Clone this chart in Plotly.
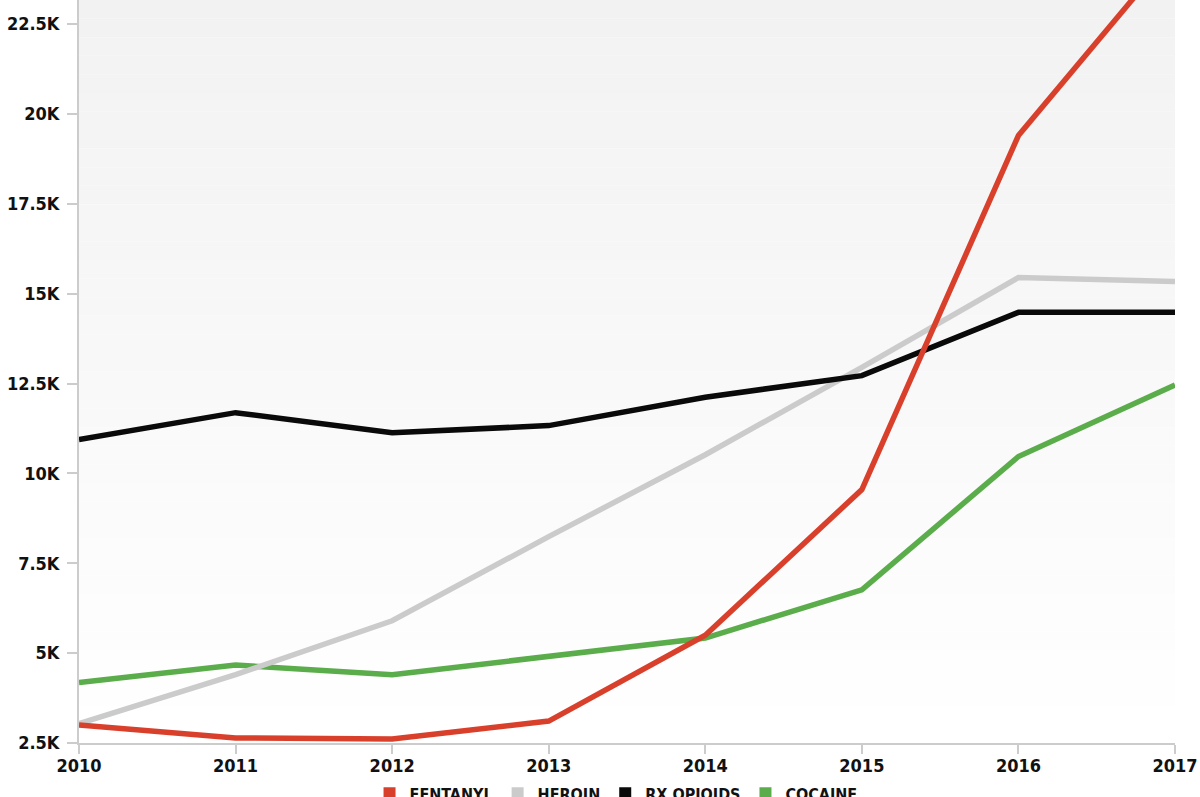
import plotly.graph_objects as go

years = [2010, 2011, 2012, 2013, 2014, 2015, 2016, 2017]
fentanyl = [3000, 2640, 2610, 3110, 5500, 9550, 19400, 24600]
heroin = [3040, 4400, 5900, 8240, 10520, 12950, 15450, 15340]
rx_opioids = [10940, 11690, 11130, 11330, 12120, 12720, 14480, 14480]
cocaine = [4180, 4670, 4400, 4920, 5420, 6760, 10470, 12460]

series_names = ["FENTANYL", "HEROIN", "RX OPIOIDS", "COCAINE"]
series_vals = [fentanyl, heroin, rx_opioids, cocaine]
colors = ["#d9402c", "#cbcbcb", "#0a0a0a", "#5aad4a"]

y_tickvals = [2500, 5000, 7500, 10000, 12500, 15000, 17500, 20000, 22500]
y_ticktext = ["2.5K", "5K", "7.5K", "10K", "12.5K", "15K", "17.5K", "20K", "22.5K"]

FONT = "DejaVu Sans Condensed, Liberation Sans Narrow, Roboto Condensed, Liberation Sans, sans-serif"

fig = go.Figure()
draw_order = [3, 1, 2, 0]
for i in draw_order:
    fig.add_trace(go.Scatter(
        x=years, y=series_vals[i], mode="lines", name=series_names[i],
        line=dict(color=colors[i], width=5.5), showlegend=False, cliponaxis=True))
for i in range(4):
    fig.add_trace(go.Scatter(
        x=[None], y=[None], mode="markers", name=series_names[i],
        marker=dict(symbol="square", size=15, color=colors[i]), showlegend=True))

n = 40
shapes = []
for k in range(n):
    t = k / n
    v = int(round(242 + (255 - 242) * (1 - (t + 0.5 / n))))
    c = f"rgb({v},{v},{v})"
    shapes.append(dict(type="rect", xref="paper", yref="paper",
                       x0=0, x1=1, y0=k / n, y1=(k + 1) / n,
                       fillcolor=c, line=dict(width=0), layer="below"))

fig.update_layout(
    width=1200, height=797,
    margin=dict(l=79, r=25, t=0, b=54, autoexpand=False),
    paper_bgcolor="white", plot_bgcolor="rgba(0,0,0,0)",
    shapes=shapes,
    font=dict(family=FONT, size=16, color="#111"),
    showlegend=True,
    legend=dict(orientation="h", x=0.49, xanchor="center", y=-0.045, yanchor="top",
                font=dict(family=FONT, size=16, color="#111", weight="bold"),
                itemsizing="constant", traceorder="normal", itemwidth=30,
                bgcolor="rgba(0,0,0,0)"),
    xaxis=dict(range=[2010, 2017], tickvals=years, ticktext=[str(y) for y in years],
               showgrid=False, zeroline=False, showline=True, linecolor="#cccccc", linewidth=2,
               ticks="outside", ticklen=9, tickcolor="#cccccc", tickwidth=2,
               ticklabelstandoff=-4,
               tickfont=dict(family=FONT, size=18, color="#111", weight="bold")),
    yaxis=dict(range=[2500, 23170], tickvals=y_tickvals, ticktext=y_ticktext,
               showgrid=False, zeroline=False, showline=True, linecolor="#cccccc", linewidth=2,
               ticks="outside", ticklen=10, tickcolor="#cccccc", tickwidth=2,
               ticklabelstandoff=4,
               tickfont=dict(family=FONT, size=18, color="#111", weight="bold")),
)

fig.write_html("out.html", config={"displayModeBar": False},
               post_script="document.body.style.margin='0';document.body.style.overflow='hidden';")
